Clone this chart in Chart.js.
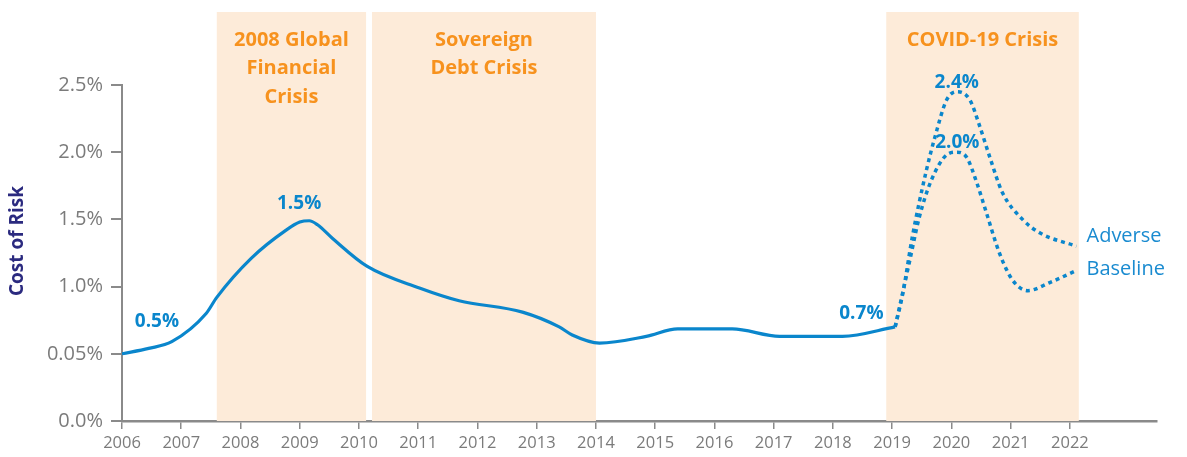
<!DOCTYPE html>
<html>
<head>
<meta charset="utf-8">
<script src="https://cdn.jsdelivr.net/npm/chart.js@4/dist/chart.umd.min.js"></script>
<style>
  html, body { margin: 0; padding: 0; background: #ffffff; }
  #wrap { width: 1187px; height: 457px; position: relative; }
</style>
</head>
<body>
<div id="wrap"><canvas id="c" width="1187" height="457"></canvas></div>
<script>
// ---- data ----
const yearTicks = [2006, 2007, 2008, 2009, 2010, 2011, 2012, 2013, 2014, 2015, 2016, 2017, 2018, 2019, 2020, 2021, 2022];
const yTickValues = [0, 0.5, 1.0, 1.5, 2.0, 2.5];
const yTickLabels = ["0.0%", "0.05%", "1.0%", "1.5%", "2.0%", "2.5%"];
const yAxisTitle = "Cost of Risk";

const historyYears  = [2006.0, 2006.45, 2006.84, 2007.42, 2007.6, 2008.18, 2008.77, 2009.0, 2009.16, 2009.3, 2009.55, 2010.14, 2011.02, 2011.69, 2012.76, 2013.38, 2013.6, 2014.06, 2014.85, 2015.38, 2016.3, 2017.1, 2018.16, 2019.05];
const historyValues = [0.50, 0.54, 0.59, 0.80, 0.92, 1.21, 1.42, 1.48, 1.49, 1.46, 1.36, 1.15, 0.99, 0.895, 0.81, 0.70, 0.64, 0.58, 0.63, 0.685, 0.685, 0.63, 0.63, 0.70];

const adverseYears  = [2019.05, 2019.18, 2019.34, 2019.58, 2019.72, 2019.92, 2020.10, 2020.31, 2020.48, 2020.65, 2020.86, 2021.20, 2021.49, 2022.11];
const adverseValues = [0.70, 0.95, 1.37, 1.87, 2.11, 2.39, 2.45, 2.39, 2.19, 1.96, 1.70, 1.50, 1.40, 1.30];

const baselineYears  = [2019.05, 2019.29, 2019.46, 2019.66, 2019.92, 2020.09, 2020.26, 2020.43, 2020.59, 2020.81, 2021.03, 2021.29, 2021.66, 2022.11];
const baselineValues = [0.70, 1.18, 1.52, 1.79, 1.98, 2.00, 1.96, 1.77, 1.55, 1.25, 1.05, 0.97, 1.03, 1.12];

const crisisNames  = [["2008 Global", "Financial", "Crisis"], ["Sovereign", "Debt Crisis"], ["COVID-19 Crisis"]];
const crisisStarts = [2007.6, 2010.22, 2018.9];
const crisisEnds   = [2010.12, 2014.0, 2022.15];

const valueLabels = ["0.5%", "1.5%", "0.7%", "2.4%", "2.0%"];
const seriesNames = ["Adverse", "Baseline"];

// ---- styling / placement (not data) ----
const FONT = "'Open Sans', 'Noto Sans', sans-serif";
const BLUE = "#0a86cc";
const ORANGE = "#f7921e";
const BAND = "#fdebd9";
const GREY = "#7b7b7b";
const AXIS = "#8a8a8a";
// label anchor positions in data units [year, value]
const valueLabelPos = [[2006.59, 0.74], [2008.99, 1.62], [2018.48, 0.80], [2020.09, 2.52], [2020.10, 2.07]];
const seriesLabelPos = [[2022.28, 1.375], [2022.28, 1.13]];

function pts(xs, ys) { return xs.map((x, i) => ({ x: x, y: ys[i] })); }

const bandPlugin = {
  id: 'bands',
  beforeDatasetsDraw(chart) {
    const ctx = chart.ctx, xs = chart.scales.x, ys = chart.scales.y;
    const bottom = ys.getPixelForValue(0);
    ctx.save();
    ctx.fillStyle = BAND;
    for (let i = 0; i < crisisStarts.length; i++) {
      const x0 = xs.getPixelForValue(crisisStarts[i]);
      const x1 = xs.getPixelForValue(crisisEnds[i]);
      ctx.fillRect(x0, 12, x1 - x0, bottom - 12);
    }
    ctx.fillStyle = ORANGE;
    ctx.font = "bold 20px " + FONT;
    ctx.textAlign = 'center';
    ctx.textBaseline = 'middle';
    for (let i = 0; i < crisisNames.length; i++) {
      const cx = (xs.getPixelForValue(crisisStarts[i]) + xs.getPixelForValue(crisisEnds[i])) / 2;
      crisisNames[i].forEach((line, j) => ctx.fillText(line, cx, 40 + j * 28.5));
    }
    ctx.restore();
  }
};

const labelPlugin = {
  id: 'labels',
  afterDatasetsDraw(chart) {
    const ctx = chart.ctx, xs = chart.scales.x, ys = chart.scales.y;
    ctx.save();
    ctx.fillStyle = BLUE;
    ctx.textBaseline = 'middle';
    ctx.textAlign = 'center';
    ctx.font = "bold 19px " + FONT;
    valueLabels.forEach((t, i) => {
      ctx.fillText(t, xs.getPixelForValue(valueLabelPos[i][0]), ys.getPixelForValue(valueLabelPos[i][1]));
    });
    ctx.textAlign = 'left';
    ctx.font = "20px " + FONT;
    ctx.fillStyle = "#1a8bd0";
    seriesNames.forEach((t, i) => {
      ctx.fillText(t, xs.getPixelForValue(seriesLabelPos[i][0]), ys.getPixelForValue(seriesLabelPos[i][1]));
    });
    // y axis title
    ctx.save();
    ctx.translate(18, 241);
    ctx.rotate(-Math.PI / 2);
    ctx.textAlign = 'center';
    ctx.textBaseline = 'middle';
    ctx.fillStyle = '#2b2a7f';
    ctx.font = "bold 19px " + FONT;
    ctx.fillText(yAxisTitle, 0, 0);
    ctx.restore();
    ctx.restore();
  }
};

new Chart(document.getElementById('c'), {
  type: 'line',
  data: {
    datasets: [
      { label: 'History', data: pts(historyYears, historyValues), borderColor: BLUE, borderWidth: 3.2, pointRadius: 0, cubicInterpolationMode: 'monotone', fill: false },
      { label: 'Adverse', data: pts(adverseYears, adverseValues), borderColor: BLUE, borderWidth: 3.5, borderDash: [4, 4], borderCapStyle: 'butt', pointRadius: 0, cubicInterpolationMode: 'monotone', fill: false },
      { label: 'Baseline', data: pts(baselineYears, baselineValues), borderColor: BLUE, borderWidth: 3.5, borderDash: [4, 4], borderCapStyle: 'butt', pointRadius: 0, cubicInterpolationMode: 'monotone', fill: false }
    ]
  },
  options: {
    responsive: false,
    animation: false,
    layout: { padding: { top: 85, right: 30, left: 0, bottom: 0 } },
    plugins: { legend: { display: false }, tooltip: { enabled: false } },
    scales: {
      x: {
        type: 'linear',
        min: 2006,
        max: 2023.47,
        afterBuildTicks(scale) { scale.ticks = yearTicks.map(v => ({ value: v })); },
        afterFit(scale) { scale.height = 36; },
        ticks: { autoSkip: false, maxRotation: 0, color: GREY, font: { family: FONT, size: 16.5 }, padding: 4, callback: v => String(v) },
        grid: { display: true, drawOnChartArea: false, drawTicks: true, tickLength: 8, color: AXIS, lineWidth: 1.5 },
        border: { display: true, color: AXIS, width: 2.5 }
      },
      y: {
        min: 0,
        max: 2.5,
        afterBuildTicks(scale) { scale.ticks = yTickValues.map(v => ({ value: v })); },
        afterFit(scale) { scale.width = 122; },
        ticks: { color: GREY, font: { family: FONT, size: 20 }, padding: 8, callback: (v) => yTickLabels[yTickValues.indexOf(v)] },
        grid: { display: true, drawOnChartArea: false, drawTicks: true, tickLength: 11, color: AXIS, lineWidth: 2 },
        border: { display: true, color: AXIS, width: 2 },
        title: { display: false }
      }
    }
  },
  plugins: [bandPlugin, labelPlugin]
});
</script>
</body>
</html>
